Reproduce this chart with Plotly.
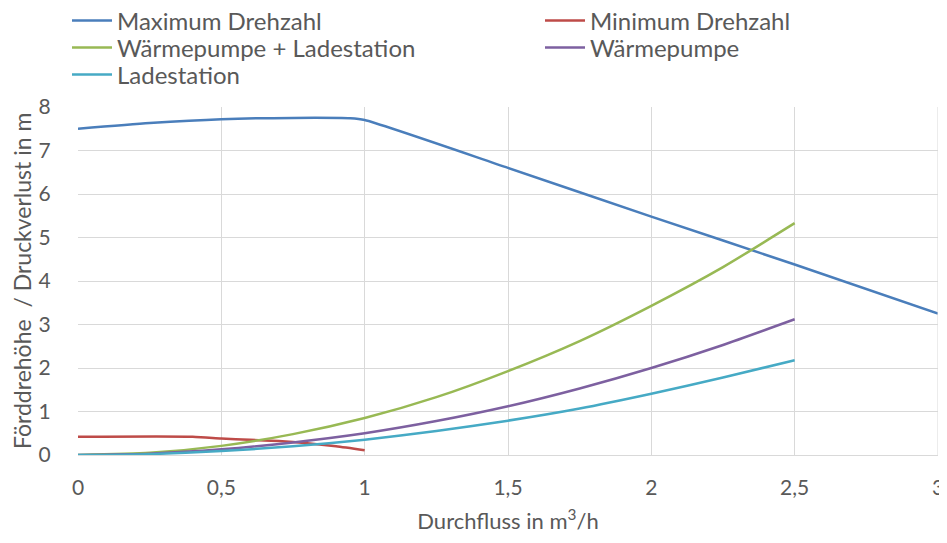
import plotly.graph_objects as go

# Data
x_max = [0, 0.25, 0.5, 0.75, 0.95, 1.0, 1.5, 2.0, 2.5, 3.0]
y_max = [7.50, 7.63, 7.72, 7.75, 7.74, 7.70, 6.60, 5.48, 4.38, 3.25]

x_min = [0, 0.4, 0.5, 0.6, 0.7, 0.8, 0.9, 1.0]
y_min = [0.42, 0.42, 0.38, 0.35, 0.32, 0.27, 0.20, 0.11]

x_sys = [0, 0.25, 0.5, 0.75, 1.0, 1.25, 1.5, 1.75, 2.0, 2.25, 2.5]
y_wp_ls = [0.0, 0.05, 0.21, 0.48, 0.85, 1.33, 1.93, 2.62, 3.43, 4.32, 5.33]
y_wp = [0.0, 0.03, 0.13, 0.29, 0.50, 0.78, 1.12, 1.53, 2.00, 2.53, 3.12]
y_ls = [0.0, 0.02, 0.09, 0.20, 0.35, 0.55, 0.79, 1.07, 1.41, 1.78, 2.18]

x_ticks = [0, 0.5, 1, 1.5, 2, 2.5, 3]
x_ticklabels = ["0", "0,5", "1", "1,5", "2", "2,5", "3"]
y_ticks = [0, 1, 2, 3, 4, 5, 6, 7, 8]

x_title = "Durchfluss in m<sup>3</sup>/h"
y_title = "Förddrehöhe  / Druckverlust in m"

# name, x, y, colour, legend id, legend position (px from left, px from top)
series = [
    ("Maximum Drehzahl", x_max, y_max, "#4A7EBB", "legend", (59, 13)),
    ("Minimum Drehzahl", x_min, y_min, "#BE4B48", "legend2", (532, 13)),
    ("Wärmepumpe + Ladestation", x_sys, y_wp_ls, "#98B954", "legend3", (59, 40)),
    ("Wärmepumpe", x_sys, y_wp, "#7D60A0", "legend4", (532, 40)),
    ("Ladestation", x_sys, y_ls, "#46AAC5", "legend5", (59, 67)),
]

FONT = "Lato, Liberation Sans, Arial, sans-serif"
TXT = "#595959"
W, H = 939, 535

fig = go.Figure()
legend_layouts = {}
for name, xs, ys, col, lg, (lx, ly) in series:
    fig.add_trace(go.Scatter(
        x=xs, y=ys, name=name, mode="lines", legend=lg,
        line=dict(color=col, width=2.5, shape="spline", smoothing=0.6),
    ))
    legend_layouts[lg] = dict(
        xref="container", yref="container",
        x=lx / W, y=1 - ly / H, xanchor="left", yanchor="middle",
        itemwidth=40,
        font=dict(family=FONT, size=24, color=TXT),
        bgcolor="rgba(0,0,0,0)",
    )

fig.update_layout(
    width=W, height=H,
    margin=dict(l=70, r=9, t=99, b=88, autoexpand=False),
    paper_bgcolor="white", plot_bgcolor="white",
    font=dict(family=FONT, color=TXT, size=21),
    showlegend=True,
    xaxis=dict(
        range=[0, 3], tickmode="array", tickvals=x_ticks, ticktext=x_ticklabels,
        showgrid=True, gridcolor="#D9D9D9", gridwidth=1,
        zeroline=False, showline=True, linecolor="#D9D9D9", linewidth=1,
        ticks="outside", ticklen=14, tickcolor="rgba(0,0,0,0)", automargin=False,
        tickfont=dict(family=FONT, size=21, color=TXT),
        title=dict(text=x_title, font=dict(family=FONT, size=22, color=TXT)),
    ),
    yaxis=dict(
        range=[0, 8], tickmode="array", tickvals=y_ticks,
        showgrid=True, gridcolor="#D9D9D9", gridwidth=1,
        zeroline=False, showline=False,
        ticks="outside", ticklen=22, tickcolor="rgba(0,0,0,0)", automargin=False,
        tickfont=dict(family=FONT, size=21, color=TXT),
    ),
    annotations=[dict(
        text=y_title, textangle=-90, xref="paper", yref="paper",
        x=0, y=0.5, xanchor="center", yanchor="middle", xshift=-56,
        showarrow=False, font=dict(family=FONT, size=23, color=TXT),
    )],
    **legend_layouts,
)
fig.add_shape(type="line", xref="x", yref="paper", x0=3, x1=3, y0=0, y1=1,
              line=dict(color="#D9D9D9", width=1))

fig.write_html("out.html")
